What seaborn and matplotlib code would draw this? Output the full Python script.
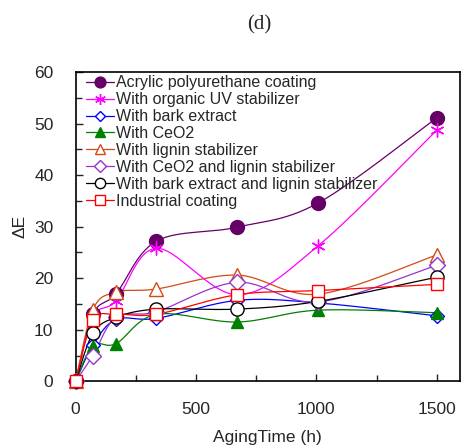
import numpy as np
import pandas as pd
import matplotlib
matplotlib.use("Agg")
import matplotlib.pyplot as plt
from matplotlib.lines import Line2D
from matplotlib.ticker import MultipleLocator
import seaborn as sns

hours = [0, 72, 168, 336, 672, 1008, 1500]

acrylic = [0, 13.0, 17.0, 27.2, 29.9, 34.6, 51.1]
uv_stabilizer = [0, 12.5, 15.6, 25.8, 16.8, 26.3, 48.7]
bark = [0, 7.0, 12.0, 12.2, 15.7, 15.2, 12.7]
ceo2 = [0, 6.9, 7.3, 13.0, 11.5, 13.8, 13.3]
lignin = [0, 13.9, 17.3, 17.9, 20.6, 16.9, 24.5]
ceo2_lignin = [0, 5.0, 12.4, 13.5, 19.2, 15.4, 22.5]
bark_lignin = [0, 9.3, 12.4, 14.0, 14.0, 15.5, 20.2]
industrial = [0, 11.8, 13.0, 13.0, 16.8, 17.6, 18.8]

labels = ["Acrylic polyurethane coating", "With organic UV stabilizer",
          "With bark extract", "With CeO2", "With lignin stabilizer",
          "With CeO2 and lignin stabilizer",
          "With bark extract and lignin stabilizer", "Industrial coating"]
series = [acrylic, uv_stabilizer, bark, ceo2, lignin, ceo2_lignin,
          bark_lignin, industrial]
colors = ["#660066", "#FF00FF", "#0000FF", "#008000", "#D24A14",
          "#9933CC", "#000000", "#FF0000"]
markers = ["o", (6, 2, 0), "D", "^", "^", "D", "o", "s"]
filled = [True, True, False, True, False, False, False, False]
msizes = [10, 10, 7, 9, 10, 8, 9.5, 9]


def smooth(x, y, n=30):
    # Excel-style smoothed line (cubic Bezier through the points)
    x = np.asarray(x, float)
    y = np.asarray(y, float)
    px = np.concatenate([[x[0]], x, [x[-1]]])
    py = np.concatenate([[y[0]], y, [y[-1]]])
    t = np.linspace(0, 1, n)
    xs, ys = [], []
    for i in range(1, len(px) - 2):
        p0 = np.array([px[i], py[i]])
        p3 = np.array([px[i + 1], py[i + 1]])
        c1 = p0 + (p3 - np.array([px[i - 1], py[i - 1]])) / 6
        c2 = p3 - (np.array([px[i + 2], py[i + 2]]) - p0) / 6
        b = ((1 - t) ** 3)[:, None] * p0 + (3 * (1 - t) ** 2 * t)[:, None] * c1 \
            + (3 * (1 - t) * t ** 2)[:, None] * c2 + (t ** 3)[:, None] * p3
        xs.extend(b[:, 0])
        ys.extend(b[:, 1])
    return xs, ys


sns.set_style("ticks")
plt.rcParams["font.family"] = ["Liberation Sans", "DejaVu Sans"]

fig = plt.figure(figsize=(4.61, 4.47), dpi=100)
ax = fig.add_axes([0.164, 0.147, 0.833, 0.692])

handles = []
for lab, ys, c, m, f, ms in zip(labels, series, colors, markers, filled, msizes):
    sx, sy = smooth(hours, ys)
    sns.lineplot(x=sx, y=sy, ax=ax, color=c, lw=0.9, sort=False,
                 estimator=None)
    fc = c if f else "white"
    ax.plot(hours, ys, ls="none", marker=m, ms=ms, mfc=fc, mec=c, mew=1.0,
            clip_on=False, zorder=3)
    handles.append(Line2D([0], [0], color=c, lw=0.9, marker=m, ms=ms * 0.78,
                          mfc=fc, mec=c, mew=1.0))

ax.set_xlim(0, 1595)
ax.set_ylim(0, 60)
ax.xaxis.set_major_locator(MultipleLocator(500))
ax.xaxis.set_minor_locator(MultipleLocator(250))
ax.yaxis.set_major_locator(MultipleLocator(10))
ax.yaxis.set_minor_locator(MultipleLocator(5))
ax.tick_params(which="both", direction="in", labelsize=12.5, width=1)
ax.tick_params(axis="x", pad=15)
ax.tick_params(axis="y", pad=16)
ax.tick_params(which="major", length=5)
ax.tick_params(which="minor", length=4)
for s in ax.spines.values():
    s.set_linewidth(1.2)
    s.set_color("black")

ax.set_xlabel("AgingTime (h)", fontsize=12.5, labelpad=9)
ax.set_ylabel("ΔE", fontsize=12.5, labelpad=5)
fig.text(0.562, 0.944, "(d)", ha="center", va="center", fontsize=15,
         family=["Liberation Serif", "DejaVu Serif"])

ax.legend(handles, labels, loc="upper left", bbox_to_anchor=(0.01, 1.01),
          frameon=False, fontsize=11.5, handlelength=1.75, handletextpad=0.15,
          labelspacing=0.12, borderaxespad=0)

fig.savefig("out.png", dpi=100)
